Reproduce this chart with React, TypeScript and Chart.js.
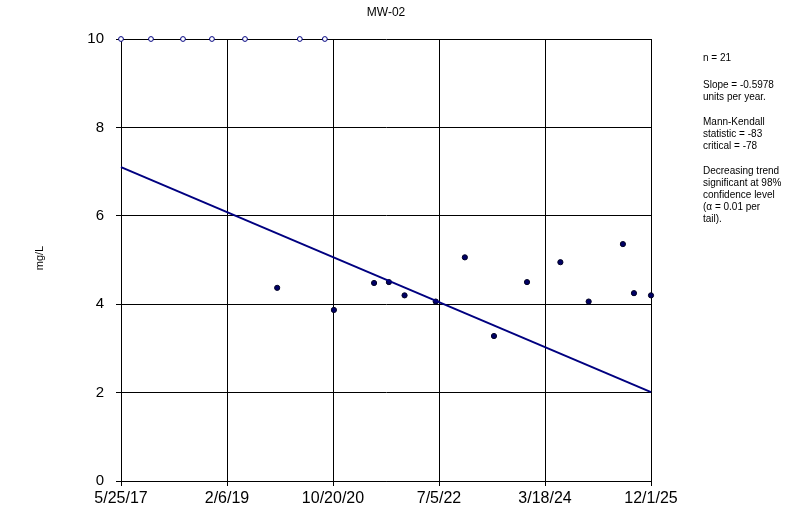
import React, { useEffect, useRef } from 'react';
import { Chart, registerables } from 'chart.js';

Chart.register(...registerables);

const chartTitle = 'MW-02';
const yAxisTitle = 'mg/L';

const xMinDate = '2017-05-25';
const xMaxDate = '2025-12-01';
const xTickLabels = ['5/25/17', '2/6/19', '10/20/20', '7/5/22', '3/18/24', '12/1/25'];

const yMin = 0;
const yMax = 10;
const yStep = 2;

// non-detects (open circles)
const ndDates = ['2017-05-25', '2017-11-17', '2018-05-24', '2018-11-10', '2019-05-23', '2020-04-09', '2020-09-03'];
const ndValues = [10, 10, 10, 10, 10, 10, 10];

// detected values (filled circles)
const detDates = [
  '2019-11-28', '2020-10-26', '2021-06-19', '2021-09-14', '2021-12-15', '2022-06-16', '2022-12-04',
  '2023-05-24', '2023-12-04', '2024-06-17', '2024-11-30', '2025-06-19', '2025-08-23', '2025-12-01',
];
const detValues = [4.37, 3.87, 4.48, 4.5, 4.2, 4.06, 5.06, 3.28, 4.5, 4.95, 4.06, 5.36, 4.25, 4.2];

// Sen's slope trend line
const trendDates = ['2017-05-25', '2025-12-01'];
const trendValues = [7.1, 2.01];

const sideParagraphs = [
  ['n = 21'],
  ['Slope = -0.5978', 'units per year.'],
  ['Mann-Kendall', 'statistic = -83', 'critical = -78'],
  ['Decreasing trend', 'significant at 98%', 'confidence level', '(\u03b1 = 0.01 per', 'tail).'],
];

const FONT = '"Liberation Sans", Arial, sans-serif';

const toMs = (s: string) => {
  const [y, m, d] = s.split('-').map(Number);
  return Date.UTC(y, m - 1, d);
};

const textPlugin = {
  id: 'textPlugin',
  afterDraw(chart: any) {
    const ctx = chart.ctx;
    const area = chart.chartArea;
    ctx.save();
    ctx.fillStyle = '#000';
    // title
    ctx.font = `12px ${FONT}`;
    ctx.textAlign = 'center';
    ctx.textBaseline = 'middle';
    ctx.fillText(chartTitle, (area.left + area.right) / 2, 13);
    // y axis title
    ctx.save();
    ctx.translate(40, 258);
    ctx.rotate(-Math.PI / 2);
    ctx.font = `11px ${FONT}`;
    ctx.textAlign = 'center';
    ctx.textBaseline = 'middle';
    ctx.fillText(yAxisTitle, 0, 0);
    ctx.restore();
    // side text
    ctx.font = `10px ${FONT}`;
    ctx.textAlign = 'left';
    ctx.textBaseline = 'middle';
    let y = 58;
    const x = area.right + 52;
    sideParagraphs.forEach((para, pi) => {
      para.forEach((line) => {
        ctx.fillText(line, x, y);
        y += 12;
      });
      y += pi === 0 ? 15 : 13;
    });
    ctx.restore();
  },
};

export default function App() {
  const ref = useRef<HTMLCanvasElement>(null);
  useEffect(() => {
    if (!ref.current) return;
    const xMin = toMs(xMinDate);
    const xMax = toMs(xMaxDate);
    const chart = new Chart(ref.current, {
      type: 'scatter',
      data: {
        datasets: [
          {
            type: 'line',
            data: trendDates.map((d, i) => ({ x: toMs(d), y: trendValues[i] })),
            borderColor: '#000080',
            borderWidth: 2,
            pointRadius: 0,
            fill: false,
            clip: false,
          } as any,
          {
            data: detDates.map((d, i) => ({ x: toMs(d), y: detValues[i] })),
            backgroundColor: '#000066',
            borderColor: '#000022',
            borderWidth: 1,
            pointRadius: 2.6,
            clip: false,
          } as any,
          {
            data: ndDates.map((d, i) => ({ x: toMs(d), y: ndValues[i] })),
            backgroundColor: '#ffffff',
            borderColor: '#000080',
            borderWidth: 1,
            pointRadius: 2.4,
            clip: false,
          } as any,
        ],
      },
      options: {
        responsive: false,
        animation: false,
        devicePixelRatio: 1,
        layout: { padding: { top: 39, right: 147, left: 0, bottom: 0 } },
        plugins: { legend: { display: false }, tooltip: { enabled: false }, title: { display: false } },
        scales: {
          x: {
            type: 'linear',
            min: xMin,
            max: xMax,
            afterBuildTicks: (scale: any) => {
              scale.ticks = xTickLabels.map((_, i) => ({ value: xMin + ((xMax - xMin) * i) / (xTickLabels.length - 1) }));
            },
            afterFit: (scale: any) => {
              scale.height = 29;
            },
            grid: { color: '#000', lineWidth: 1, tickLength: 5, drawTicks: true },
            border: { color: '#000', width: 1 },
            ticks: {
              color: '#000',
              font: { family: FONT, size: 16 },
              padding: 3,
              maxRotation: 0,
              autoSkip: false,
              callback: (_v: any, i: number) => xTickLabels[i],
            },
          },
          y: {
            min: yMin,
            max: yMax,
            afterFit: (scale: any) => {
              scale.width = 121;
            },
            grid: { color: '#000', lineWidth: 1, tickLength: 5, drawTicks: true },
            border: { color: '#000', width: 1 },
            ticks: {
              stepSize: yStep,
              color: '#000',
              font: { family: FONT, size: 15 },
              padding: 12,
            },
          },
        },
      } as any,
      plugins: [textPlugin],
    });
    return () => chart.destroy();
  }, []);
  return (
    <div style={{ position: 'fixed', left: 0, top: 0, width: 798, height: 510, background: '#fff' }}>
      <canvas ref={ref} width={798} height={510} style={{ width: 798, height: 510, display: 'block' }} />
    </div>
  );
}
